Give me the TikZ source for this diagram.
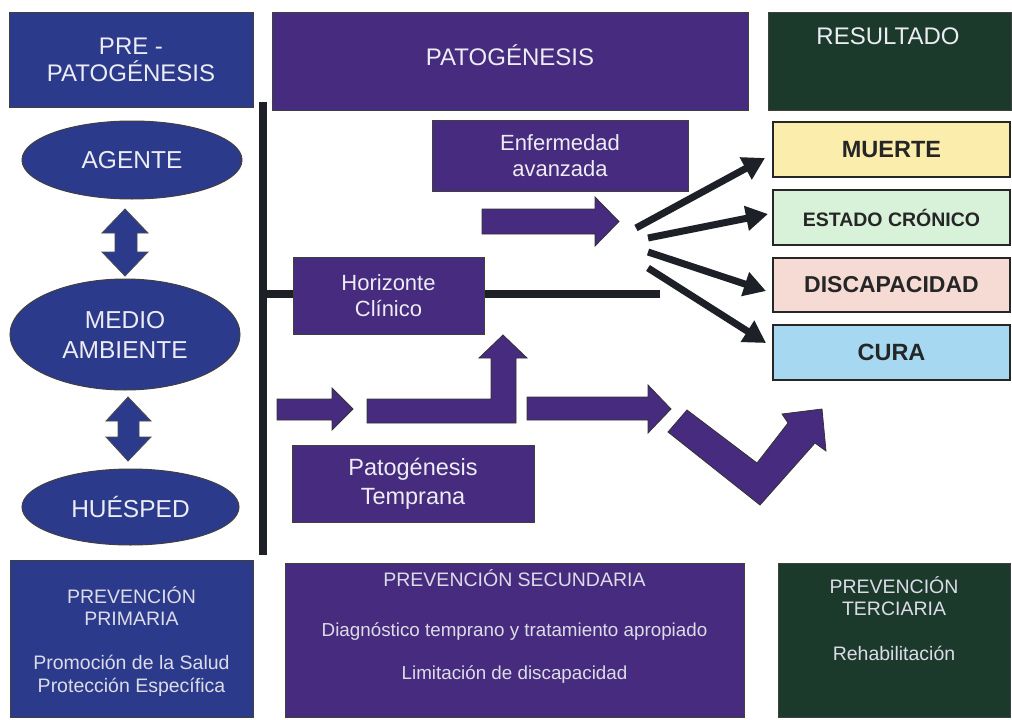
\documentclass[tikz,border=0pt]{standalone}
\usepackage{fontspec}
\setmainfont{Liberation Sans}
\usetikzlibrary{shapes.geometric,arrows.meta}
\definecolor{navyc}{HTML}{2C3A8C}
\definecolor{purpc}{HTML}{472B7E}
\definecolor{greenc}{HTML}{1C3A2C}
\definecolor{linec}{HTML}{1E2028}
\definecolor{txtc}{HTML}{ECECF4}
\definecolor{txt2c}{HTML}{DCDCE8}
\definecolor{yelc}{HTML}{FBEEAC}
\definecolor{grnlc}{HTML}{D8F2DA}
\definecolor{pinkc}{HTML}{F6DAD4}
\definecolor{bluec}{HTML}{A6D8F2}
\tikzset{
  hbox/.style={draw=black!75, line width=1pt, inner sep=0pt, text=txtc, align=center},
  navybox/.style={hbox, fill=navyc},
  purpbox/.style={hbox, fill=purpc},
  greenbox/.style={hbox, fill=greenc},
  oval/.style={ellipse, draw=black!75, line width=1pt, fill=navyc, text=txtc, align=center, inner sep=0pt, font=\fontsize{24.5}{30}\selectfont},
  outbox/.style={draw=black!85, line width=1.6pt, minimum width=237pt, inner sep=0pt, text=black!85, font=\bfseries\fontsize{23.5}{28}\selectfont},
  blockarrow/.style={fill=purpc, draw=black!80, line width=0.8pt, line join=miter},
  dblarrow/.style={fill=navyc, draw=black!70, line width=0.8pt},
  fan/.style={draw=linec, line width=7pt, -{Triangle[length=22pt,width=24pt]}},
  barline/.style={draw=linec, line width=8pt},
  lbl/.style={text=txt2c, align=center},
  head/.style={font=\fontsize{24}{27}\selectfont},
  big/.style={font=\fontsize{22}{26}\selectfont},
  small/.style={font=\fontsize{19.5}{22}\selectfont}
}
\begin{document}
\begin{tikzpicture}[x=1pt,y=-1pt]
\useasboundingbox (0,0) rectangle (1012,720);
\fill[white] (0,0) rectangle (1012,720);

% vertical divider and horizon line
\coordinate (vtop) at (263,102);
\coordinate (vbot) at (263,555);
\coordinate (hl) at (263,294);
\coordinate (hr) at (660,294);
\draw[barline] (vtop) -- (vbot);
\draw[barline] (hl) -- (hr);

% headers
\node[navybox, minimum width=244pt, minimum height=95pt, head] (pre) at (131,59.5) {PRE -\\PATOGÉNESIS};
\node[purpbox, minimum width=476pt, minimum height=98pt] (pat) at (510,61) {};
\node[lbl, head, text=txtc] (patt) at (510,55) {PATOGÉNESIS};
\node[greenbox, minimum width=243pt, minimum height=98pt] (res) at (889.5,61) {};
\node[lbl, head, text=txtc] (rest) at (888,36) {RESULTADO};

% ellipses
\node[oval, minimum width=220pt, minimum height=78pt] (agente) at (132,160) {AGENTE};
\node[oval, minimum width=230pt, minimum height=111pt] (medio) at (125,334.5) {MEDIO\\AMBIENTE};
\node[oval, minimum width=217pt, minimum height=76pt] (huesped) at (130.5,507) {HUÉSPED};

% double arrows
\draw[dblarrow] (115,233) -- (102,233) -- (125,209) -- (148,233) -- (137,233)
  -- (137,252) -- (148,252) -- (125,276) -- (102,252) -- (115,252) -- cycle;
\draw[dblarrow] (118,421) -- (106,421) -- (128,397) -- (151,421) -- (139,421)
  -- (139,437) -- (151,437) -- (128,461) -- (106,437) -- (118,437) -- cycle;

% pathogenesis boxes
\node[purpbox, minimum width=256pt, minimum height=71pt, big] (enf) at (560,155.5) {Enfermedad\\avanzada};
\node[purpbox, minimum width=191pt, minimum height=77pt, big] (hor) at (388.5,295.5) {Horizonte\\Clínico};
\node[purpbox, minimum width=242pt, minimum height=77pt, font=\fontsize{23.5}{29}\selectfont] (tem) at (413,483.5) {Patogénesis\\Temprana};

% block arrows
\draw[blockarrow] (482,209) -- (595,209) -- (595,197) -- (619,221.5) -- (595,246) -- (595,234) -- (482,234) -- cycle;
\draw[blockarrow] (277,399) -- (332,399) -- (332,388) -- (353,409) -- (332,430) -- (332,420) -- (277,420) -- cycle;
\draw[blockarrow] (367,399) -- (491,399) -- (491,358) -- (479,358) -- (503,335) -- (527,358) -- (516,358) -- (516,423) -- (367,423) -- cycle;
\draw[blockarrow] (527,397) -- (648,397) -- (648,385) -- (671,409) -- (648,433) -- (648,420) -- (527,420) -- cycle;
\draw[blockarrow] (668,432) -- (687,410) -- (757,463) -- (788,423) -- (782,414) -- (822,409) -- (826,451) -- (815,443) -- (760,505) -- cycle;

% outcome boxes
\node[outbox, fill=yelc, minimum height=55pt] (muerte) at (891.5,149.5) {MUERTE};
\node[outbox, fill=grnlc, minimum height=55pt, font=\bfseries\fontsize{19.5}{23}\selectfont] (cron) at (891.5,217.5) {ESTADO CRÓNICO};
\node[outbox, fill=pinkc, minimum height=54pt, font=\bfseries\fontsize{23}{28}\selectfont] (disc) at (891.5,285) {DISCAPACIDAD};
\node[outbox, fill=bluec, minimum height=55pt] (cura) at (891.5,352.5) {CURA};

% fan arrows
\coordinate (f1) at (636,228);
\coordinate (f2) at (648,238);
\coordinate (f3) at (648,252);
\coordinate (f4) at (648,268);
\coordinate (t1) at (765,158);
\coordinate (t2) at (768,214);
\coordinate (t3) at (766,291);
\coordinate (t4) at (766,343);
\draw[fan] (f1) -- (t1);
\draw[fan] (f2) -- (t2);
\draw[fan] (f3) -- (t3);
\draw[fan] (f4) -- (t4);

% prevention boxes
\node[navybox, minimum width=243pt, minimum height=157pt] (prim) at (131.5,638.5) {};
\node[lbl, small] (primh) at (131.5,606) {PREVENCIÓN\\PRIMARIA};
\node[lbl, small, font=\fontsize{19.5}{23}\selectfont] (primt) at (131.5,676) {Promoción de la Salud\\Protección Específica};
\node[purpbox, minimum width=459pt, minimum height=154pt] (sec) at (514.5,640) {};
\node[lbl, small] (sech) at (514.5,578) {PREVENCIÓN SECUNDARIA};
\node[lbl, font=\fontsize{18.8}{22}\selectfont] (sect1) at (514.5,632) {Diagnóstico temprano y tratamiento apropiado};
\node[lbl, font=\fontsize{18.8}{22}\selectfont] (sect2) at (514.5,675) {Limitación de discapacidad};
\node[greenbox, minimum width=232pt, minimum height=154pt] (ter) at (894,640) {};
\node[lbl, small] (terh) at (894,596) {PREVENCIÓN\\TERCIARIA};
\node[lbl, small] (tert) at (894,653) {Rehabilitación};
\end{tikzpicture}
\end{document}
